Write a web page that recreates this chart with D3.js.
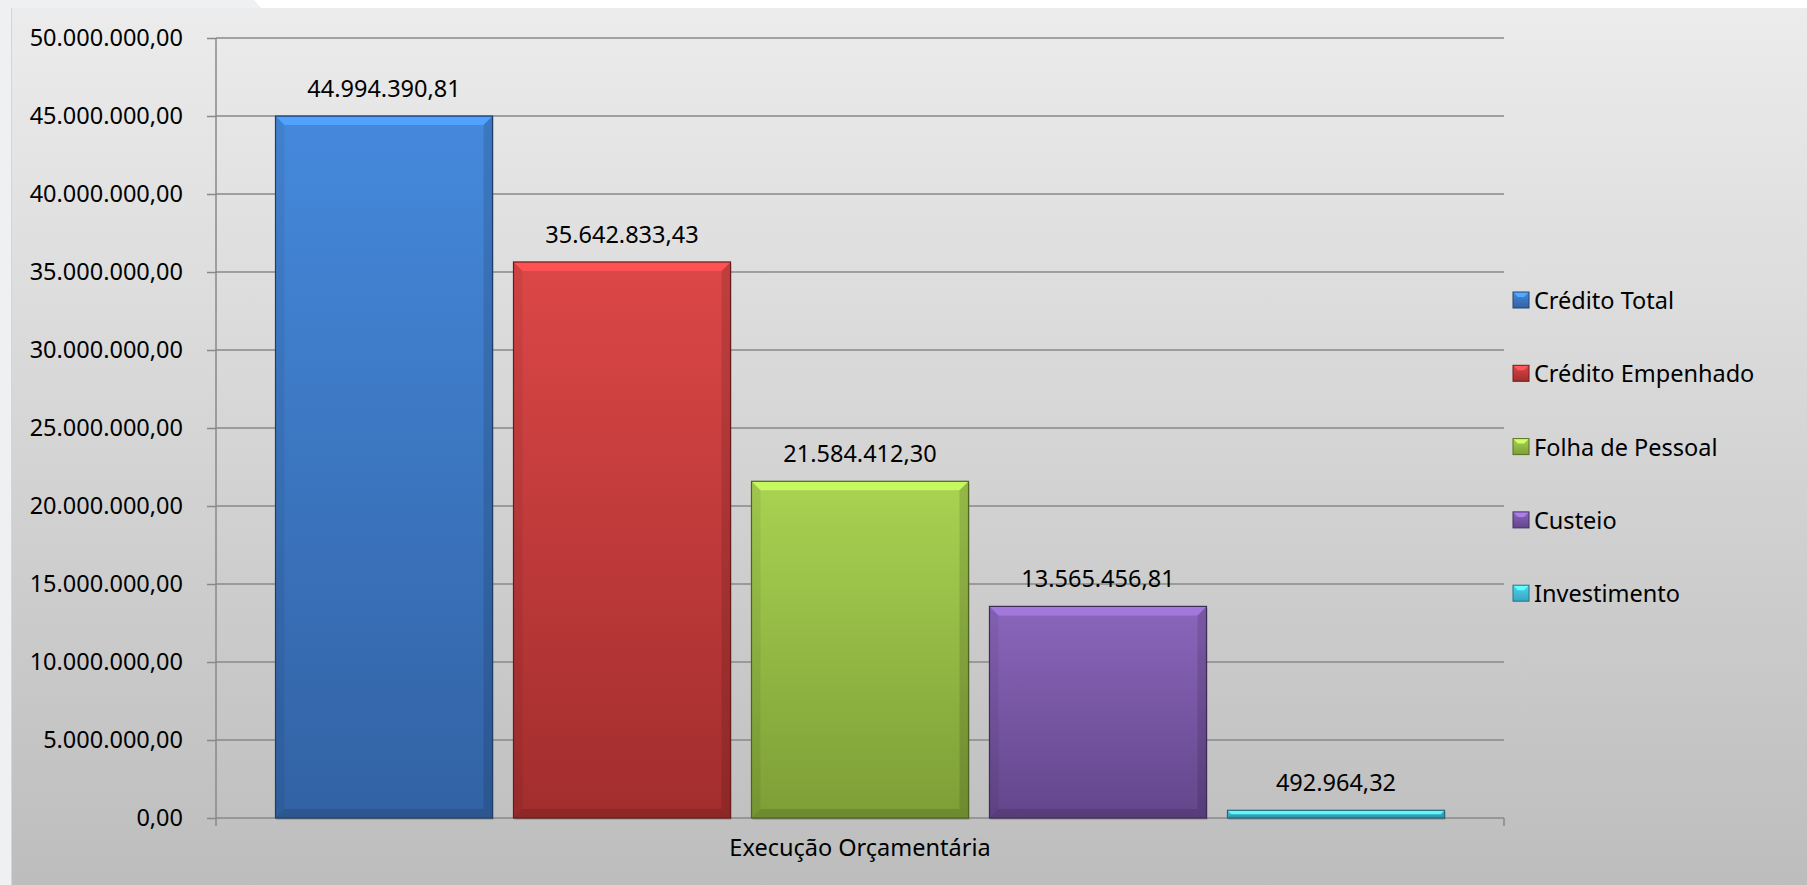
<!DOCTYPE html>
<html>
<head>
<meta charset="utf-8">
<script src="https://cdn.jsdelivr.net/npm/d3@7"></script>
<style>
  html, body { margin: 0; padding: 0; background: #ffffff; }
  svg { display: block; }
  text { font-family: "Noto Sans", "Open Sans", sans-serif; fill: #000; }
</style>
</head>
<body>
<svg id="chart" width="1807" height="885"></svg>
<script>
// ---- data ----
const categories = ["Execução Orçamentária"];
const seriesNames = ["Crédito Total", "Crédito Empenhado", "Folha de Pessoal", "Custeio", "Investimento"];
const seriesValues = [44994390.81, 35642833.43, 21584412.30, 13565456.81, 492964.32];
const yTickValues = [0, 5000000, 10000000, 15000000, 20000000, 25000000, 30000000, 35000000, 40000000, 45000000, 50000000];
const colorsTop = ["#4589dc", "#dc4747", "#a9d352", "#8b66bc", "#4fd4ef"];
const colorsBottom = ["#3262a4", "#a22d2d", "#7d9e36", "#62468a", "#36a6c0"];

// ---- layout ----
const W = 1807, H = 885;
const FS = 23.5;
const plot = { left: 216, right: 1504, top: 38, bottom: 818 };
const svg = d3.select("#chart");
const defs = svg.append("defs");

const fmt = d3.formatLocale({ decimal: ",", thousands: ".", grouping: [3], currency: ["R$", ""] }).format(",.2f");

// outer background pieces
svg.append("rect").attr("x", 0).attr("y", 0).attr("width", W).attr("height", H).attr("fill", "#ffffff");
svg.append("path").attr("d", "M0,0 L254,0 L261,8 L261,885 L0,885 Z").attr("fill", "#eff0f2");

// panel gradient
const pg = defs.append("linearGradient").attr("id", "panelGrad").attr("x1", 0).attr("y1", 0).attr("x2", 0).attr("y2", 1);
pg.append("stop").attr("offset", "0%").attr("stop-color", "#ececec");
pg.append("stop").attr("offset", "100%").attr("stop-color", "#bdbdbd");
svg.append("rect").attr("x", 11).attr("y", 8).attr("width", W - 11).attr("height", H - 8).attr("fill", "url(#panelGrad)");
svg.append("line").attr("x1", 11.5).attr("x2", 11.5).attr("y1", 8).attr("y2", H).attr("stroke", "#d6d6d6").attr("stroke-width", 1);

// scales
const y = d3.scaleLinear().domain([0, 50000000]).range([plot.bottom, plot.top]);
const x0 = d3.scaleBand().domain(categories).range([plot.left, plot.right]).padding(0);
const x1 = d3.scaleBand().domain(seriesNames).range([0, x0.bandwidth()]).paddingInner(0.088).paddingOuter(0.25);

// y axis
const yAxis = d3.axisLeft(y).tickValues(yTickValues).tickFormat(fmt).tickSize(9).tickPadding(24);
const gy = svg.append("g").attr("transform", `translate(${plot.left},0)`).call(yAxis);
gy.select(".domain").attr("stroke", "#888").attr("stroke-width", 1.5).attr("d", `M0,${plot.top}V${plot.bottom + 8}`);
gy.selectAll(".tick line").attr("stroke", "#888").attr("stroke-width", 1.5);
gy.selectAll(".tick text").attr("font-size", FS).attr("font-family", "Noto Sans").attr("fill", "#000");

// gridlines
svg.append("g").selectAll("line.grid").data(yTickValues).join("line")
  .attr("x1", plot.left).attr("x2", plot.right)
  .attr("y1", d => y(d)).attr("y2", d => y(d))
  .attr("stroke", "#888").attr("stroke-width", 1.5);

// x axis
const xAxis = d3.axisBottom(x0).tickSize(0).tickPadding(21);
const gx = svg.append("g").attr("transform", `translate(0,${plot.bottom})`).call(xAxis);
gx.select(".domain").remove();
gx.selectAll(".tick text").attr("font-size", FS).attr("font-family", "Noto Sans").attr("fill", "#000");
svg.append("g").selectAll("line.ctick").data([x0.range()[1]]).join("line")
  .attr("x1", d => d).attr("x2", d => d).attr("y1", plot.bottom).attr("y2", plot.bottom + 8)
  .attr("stroke", "#888").attr("stroke-width", 1.5);

// gradients for bars
seriesNames.forEach((s, i) => {
  const g = defs.append("linearGradient").attr("id", "barGrad" + i).attr("x1", 0).attr("y1", 0).attr("x2", 0).attr("y2", 1);
  g.append("stop").attr("offset", "0%").attr("stop-color", colorsTop[i]);
  g.append("stop").attr("offset", "100%").attr("stop-color", colorsBottom[i]);
});

const barData = seriesNames.map((s, i) => ({ name: s, value: seriesValues[i], i }));
const bars = svg.append("g").selectAll("g.bar").data(barData).join("g").attr("class", "bar");

bars.each(function(d) {
  const g = d3.select(this);
  const bx = x0(categories[0]) + x1(d.name);
  const bw = x1.bandwidth();
  const by = y(d.value);
  const bh = y(0) - by;
  const b = Math.min(9, bh / 2);
  const top = d3.color(colorsTop[d.i]);
  const bot = d3.color(colorsBottom[d.i]);
  g.append("rect").attr("x", bx + 1).attr("y", by + 2).attr("width", bw).attr("height", bh)
    .attr("fill", "rgba(0,0,0,0.15)");
  g.append("rect").attr("x", bx).attr("y", by).attr("width", bw).attr("height", bh)
    .attr("fill", `url(#barGrad${d.i})`);
  // top bevel
  g.append("path").attr("d", `M${bx},${by}L${bx + bw},${by}L${bx + bw - b},${by + b}L${bx + b},${by + b}Z`)
    .attr("fill", top.brighter(0.45).formatHex());
  // left bevel
  g.append("path").attr("d", `M${bx},${by}L${bx + b},${by + b}L${bx + b},${by + bh - b}L${bx},${by + bh}Z`)
    .attr("fill", "#000").attr("opacity", 0.06);
  // right bevel
  g.append("path").attr("d", `M${bx + bw},${by}L${bx + bw - b},${by + b}L${bx + bw - b},${by + bh - b}L${bx + bw},${by + bh}Z`)
    .attr("fill", "#000").attr("opacity", 0.12);
  // bottom bevel
  g.append("path").attr("d", `M${bx},${by + bh}L${bx + b},${by + bh - b}L${bx + bw - b},${by + bh - b}L${bx + bw},${by + bh}Z`)
    .attr("fill", "#000").attr("opacity", 0.12);
  // outline
  g.append("rect").attr("x", bx).attr("y", by).attr("width", bw).attr("height", bh)
    .attr("fill", "none").attr("stroke", bot.darker(1.3).formatHex()).attr("stroke-width", 1.2);
  // label
  g.append("text").attr("x", bx + bw / 2).attr("y", by - 28)
    .attr("text-anchor", "middle").attr("dominant-baseline", "central")
    .attr("font-size", FS).text(fmt(d.value));
});

// legend
const legend = svg.append("g").attr("transform", "translate(1513,0)");
const lg = legend.selectAll("g").data(barData).join("g")
  .attr("transform", (d, i) => `translate(0,${300 + i * 73.3})`);
lg.each(function(d) {
  const g = d3.select(this);
  const top = d3.color(colorsTop[d.i]);
  const bot = d3.color(colorsBottom[d.i]);
  g.append("rect").attr("x", 0).attr("y", -8).attr("width", 16).attr("height", 16).attr("fill", `url(#barGrad${d.i})`);
  g.append("path").attr("d", "M0,-8L16,-8L11,-3L5,-3Z").attr("fill", top.brighter(0.6).formatHex());
  g.append("rect").attr("x", 0).attr("y", -8).attr("width", 16).attr("height", 16).attr("fill", "none")
    .attr("stroke", bot.darker(1).formatHex()).attr("stroke-width", 1);
});
lg.append("text").attr("x", 21).attr("y", 0).attr("dominant-baseline", "central")
  .attr("font-size", FS).text(d => d.name);
</script>
</body>
</html>
